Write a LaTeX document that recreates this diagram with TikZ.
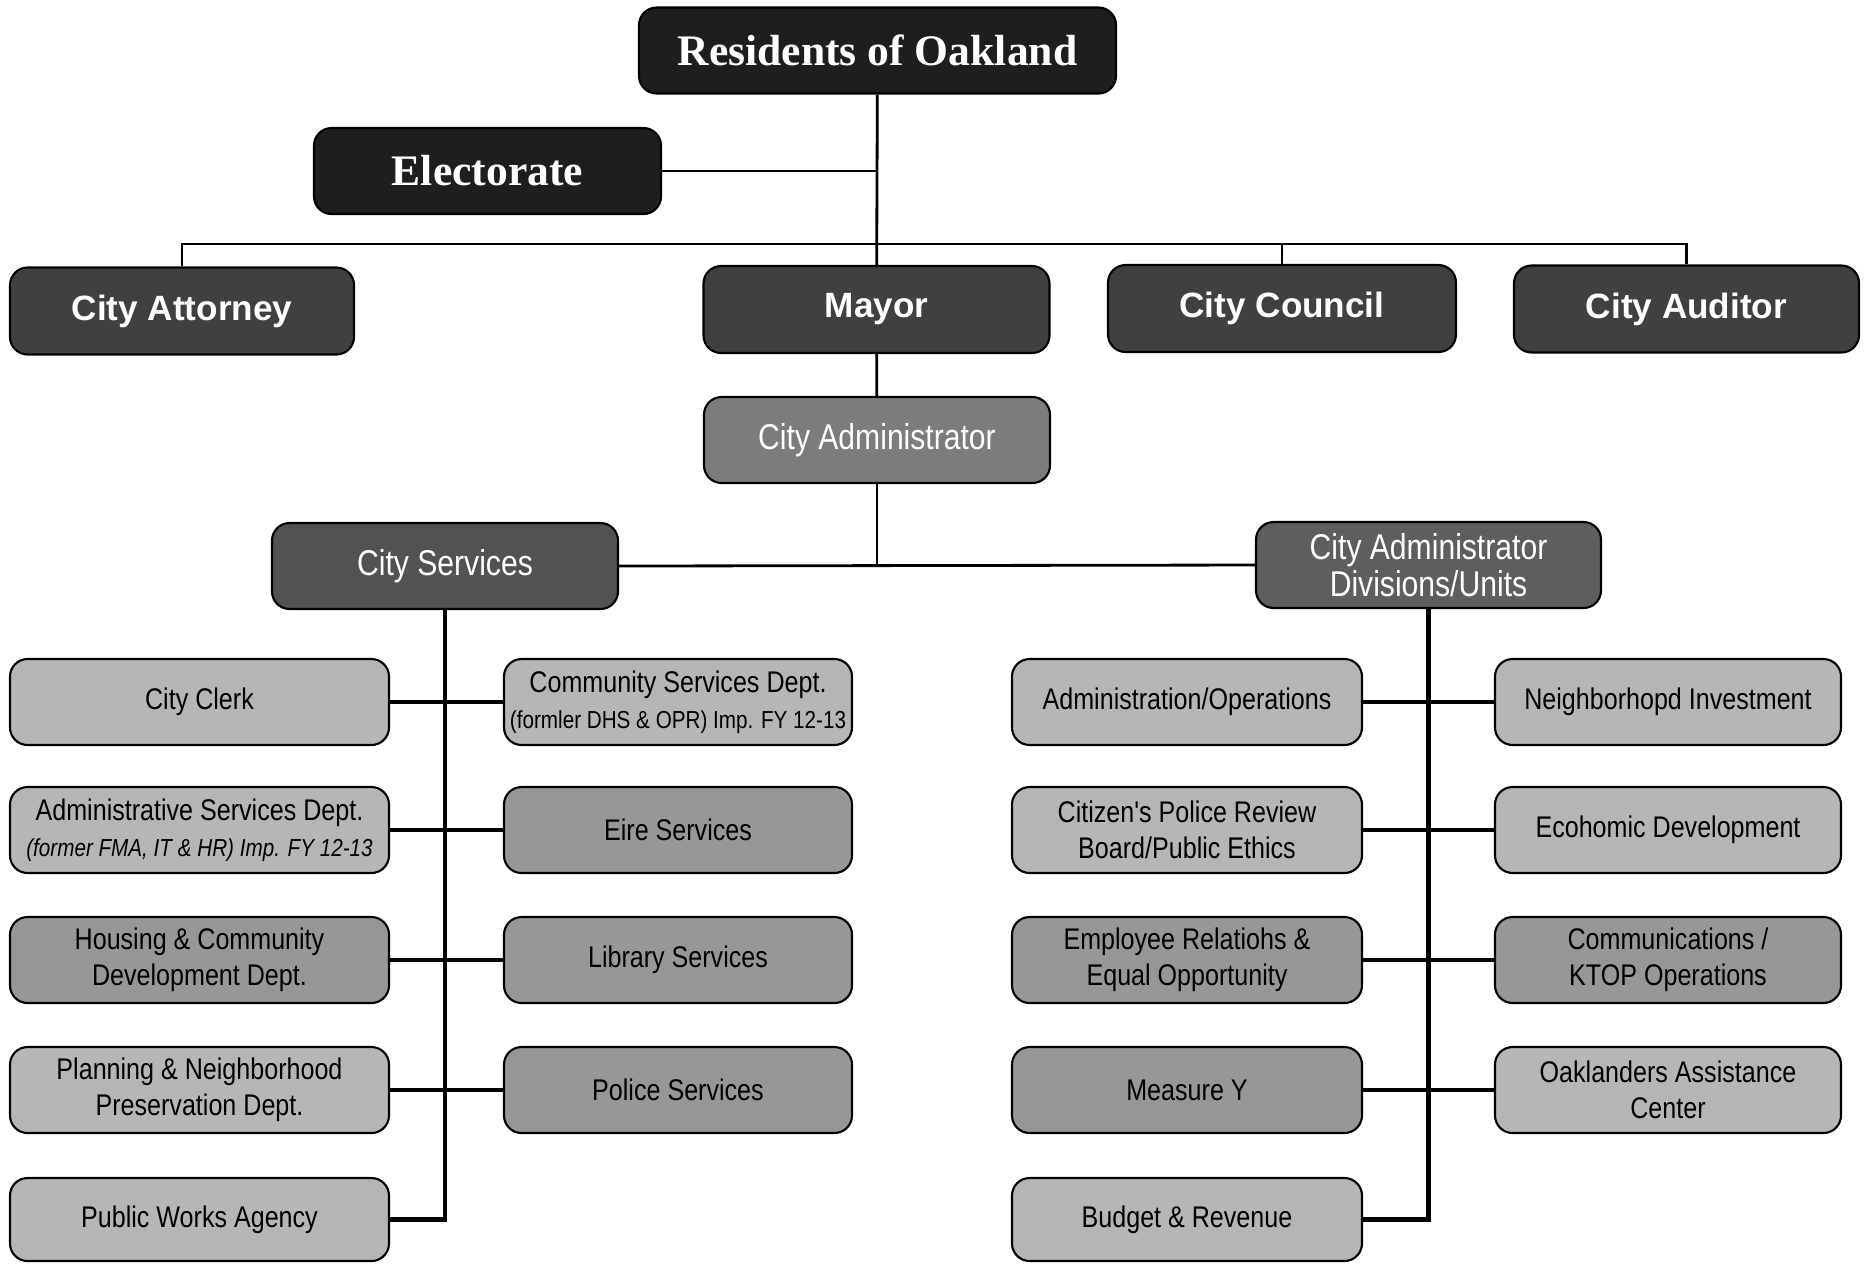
\documentclass[tikz,border=0pt]{standalone}
\usepackage{fontspec}
\setmainfont{Liberation Serif}
\newfontfamily\narrowfont[FakeStretch=0.84]{Liberation Sans}
\newfontfamily\arialfont{Liberation Sans}
\definecolor{nightgrey}{HTML}{1E1E1E}
\definecolor{officegrey}{HTML}{404040}
\definecolor{admingrey}{HTML}{7C7C7C}
\definecolor{servgrey}{HTML}{525252}
\definecolor{divgrey}{HTML}{5E5E5E}
\definecolor{unitlight}{HTML}{B6B6B6}
\definecolor{unitdark}{HTML}{979797}
\tikzset{
  orgbox/.style={draw=black, line width=0.6pt, rounded corners=5pt, align=center, inner sep=0pt},
  headbox/.style={orgbox, fill=nightgrey, text=white, minimum height=0.86cm, font=\bfseries\fontsize{12.4}{14}\selectfont},
  officebox/.style={orgbox, fill=officegrey, text=white, minimum width=3.46cm, minimum height=0.87cm, font=\arialfont\bfseries\fontsize{10}{12}\selectfont},
  midbox/.style={orgbox, text=white, minimum width=3.46cm, minimum height=0.86cm, font=\narrowfont\fontsize{10.2}{10.6}\selectfont},
  unitbox/.style={orgbox, fill=unitlight, minimum width=3.48cm, minimum height=0.86cm, font=\narrowfont\fontsize{8.5}{10.3}\selectfont},
  darkunit/.style={unitbox, fill=unitdark},
  link/.style={line width=0.8pt},
  heavylink/.style={line width=1.2pt}
}
\newcommand{\subline}[1]{{\fontsize{7}{8.8}\selectfont #1}}
\begin{document}
\begin{tikzpicture}
\useasboundingbox (0,0) rectangle (18.65,-12.63);

% top of the chart
\node[headbox, minimum width=4.77cm] (residents) at (8.775,-0.505) {Residents of Oakland};
\node[headbox, minimum width=3.47cm] (electorate) at (4.875,-1.71) {Electorate};
\node[officebox, minimum width=3.44cm] (attorney) at (1.82,-3.11) {City Attorney};
\node[officebox] (mayor) at (8.765,-3.095) {Mayor};
\node[officebox, minimum width=3.48cm] (council) at (12.82,-3.085) {City Council};
\node[officebox, minimum width=3.45cm] (auditor) at (16.865,-3.09) {City Auditor};
\coordinate (bar) at (8.78,-2.44);

\draw[link] (residents) -- (mayor);
\draw[link] (electorate.east) -- (electorate.east -| residents.south);
\draw[link] (attorney.north) |- (bar) -| (auditor.north);
\draw[link] (council.north) -- (council.north |- bar);

% administrator level
\node[midbox, fill=admingrey] (cityadmin) at (8.77,-4.40) {City Administrator};
\node[midbox, fill=servgrey] (cityserv) at (4.45,-5.66) {City Services};
\node[midbox, fill=divgrey, minimum width=3.45cm] (divisions) at (14.285,-5.65) {City Administrator\\Divisions/Units};

\draw[link] (mayor) -- (cityadmin);
\draw[link] (cityadmin.south) -- (cityadmin.south |- cityserv.east);
\draw[link] (cityserv.east) -- (divisions.west);

% city services
\node[unitbox, minimum width=3.79cm] (clerk) at (1.995,-7.02) {City Clerk};
\node[unitbox, minimum width=3.79cm] (adminserv) at (1.995,-8.30) {Administrative Services Dept.\\\subline{\itshape(former FMA, IT \& HR) Imp. FY 12-13}};
\node[darkunit, minimum width=3.79cm] (housing) at (1.995,-9.60) {Housing \& Community\\Development Dept.};
\node[unitbox, minimum width=3.79cm] (planning) at (1.995,-10.90) {Planning \& Neighborhood\\Preservation Dept.};
\node[unitbox, minimum width=3.79cm, minimum height=0.83cm] (pubworks) at (1.995,-12.195) {Public Works Agency};
\node[unitbox] (commserv) at (6.78,-7.02) {Community Services Dept.\\\subline{(formler DHS \& OPR) Imp. FY 12-13}};
\node[darkunit] (fire) at (6.78,-8.30) {Eire Services};
\node[darkunit] (library) at (6.78,-9.60) {Library Services};
\node[darkunit] (police) at (6.78,-10.90) {Police Services};

\draw[heavylink] (pubworks.east) -| (cityserv.south);
\draw[heavylink] (clerk.east) -- (commserv.west);
\draw[heavylink] (adminserv.east) -- (fire.west);
\draw[heavylink] (housing.east) -- (library.west);
\draw[heavylink] (planning.east) -- (police.west);

% administrator divisions
\node[unitbox, minimum width=3.50cm] (adminops) at (11.87,-7.02) {Administration/Operations};
\node[unitbox, minimum width=3.50cm] (review) at (11.87,-8.30) {Citizen's Police Review\\Board/Public Ethics};
\node[darkunit, minimum width=3.50cm] (employee) at (11.87,-9.60) {Employee Relatiohs \&\\Equal Opportunity};
\node[darkunit, minimum width=3.50cm] (measurey) at (11.87,-10.90) {Measure Y};
\node[unitbox, minimum width=3.50cm, minimum height=0.83cm] (budget) at (11.87,-12.195) {Budget \& Revenue};
\node[unitbox, minimum width=3.46cm] (neighinv) at (16.68,-7.02) {Neighborhopd Investment};
\node[unitbox, minimum width=3.46cm] (econdev) at (16.68,-8.30) {Ecohomic Development};
\node[darkunit, minimum width=3.46cm] (comms) at (16.68,-9.60) {Communications /\\KTOP Operations};
\node[unitbox, minimum width=3.46cm] (oaklanders) at (16.68,-10.90) {Oaklanders Assistance\\Center};

\draw[heavylink] (budget.east) -| (divisions.south);
\draw[heavylink] (adminops.east) -- (neighinv.west);
\draw[heavylink] (review.east) -- (econdev.west);
\draw[heavylink] (employee.east) -- (comms.west);
\draw[heavylink] (measurey.east) -- (oaklanders.west);

\end{tikzpicture}
\end{document}
